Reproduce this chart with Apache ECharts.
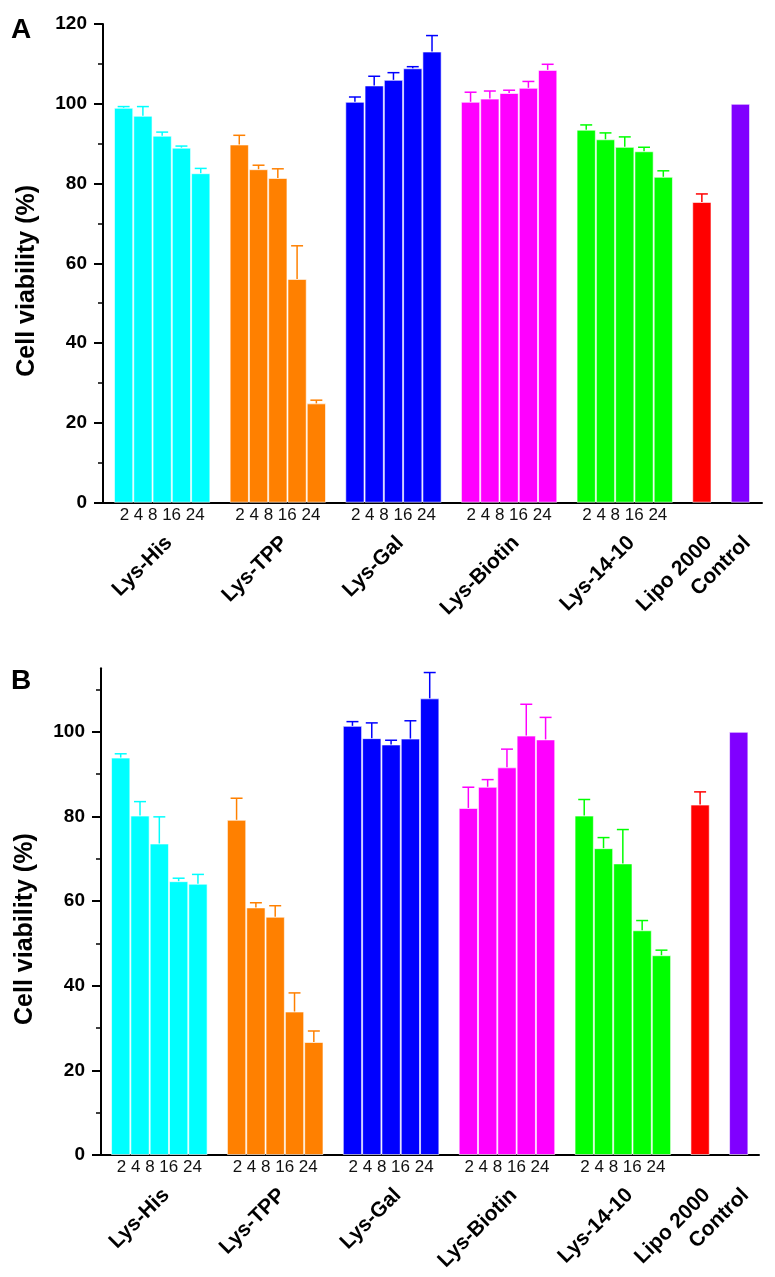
<!DOCTYPE html>
<html><head><meta charset="utf-8">
<script src="https://cdn.jsdelivr.net/npm/echarts@6/dist/echarts.min.js"></script>
<style>html,body{margin:0;padding:0;background:#fff}#c{width:775px;height:1277px}</style>
</head><body><div id="c"></div>
<script>
// ---------- categories ----------
const groupNames = ['Lys-His', 'Lys-TPP', 'Lys-Gal', 'Lys-Biotin', 'Lys-14-10', 'Lipo 2000', 'Control'];
const timeLabels = ['2', '4', '8', '16', '24'];
const groupColors = ['#00FFFF', '#FF8000', '#0000FF', '#FF00FF', '#00FF00', '#FF0000', '#8000FF'];
const yTicksA = [0, 20, 40, 60, 80, 100, 120];
const yMinorA = [10, 30, 50, 70, 90, 110];
const yTicksB = [0, 20, 40, 60, 80, 100];
const yMinorB = [10, 30, 50, 70, 90, 110];

// ---------- panel A values (mean, error) ----------
const A_His      = [99.0, 97.0, 92.0, 89.0, 82.6];
const A_His_err  = [0.3, 2.3, 0.9, 0.4, 1.2];
const A_TPP      = [89.8, 83.6, 81.4, 56.1, 24.9];
const A_TPP_err  = [2.3, 1.0, 2.3, 8.3, 0.8];
const A_Gal      = [100.5, 104.6, 106.0, 108.9, 113.1];
const A_Gal_err  = [1.2, 2.3, 1.8, 0.4, 4.0];
const A_Biotin     = [100.5, 101.3, 102.7, 104.0, 108.5];
const A_Biotin_err = [2.4, 1.9, 0.7, 1.6, 1.4];
const A_1410     = [93.5, 91.1, 89.2, 88.1, 81.7];
const A_1410_err = [1.2, 1.6, 2.5, 1.0, 1.5];
const A_Lipo     = [75.4];
const A_Lipo_err = [2.0];
const A_Control  = [100];
const A_Control_err = [0];

// ---------- panel B values (mean, error) ----------
const B_His      = [93.9, 80.2, 73.6, 64.7, 64.1];
const B_His_err  = [0.9, 3.3, 6.3, 0.7, 2.2];
const B_TPP      = [79.2, 58.5, 56.3, 33.9, 26.7];
const B_TPP_err  = [5.1, 1.1, 2.6, 4.4, 2.6];
const B_Gal      = [101.4, 98.5, 97.0, 98.4, 107.9];
const B_Gal_err  = [1.0, 3.6, 1.0, 4.2, 6.1];
const B_Biotin     = [82.0, 87.0, 91.6, 99.1, 98.2];
const B_Biotin_err = [4.9, 1.7, 4.3, 7.4, 5.2];
const B_1410     = [80.2, 72.5, 68.9, 53.1, 47.2];
const B_1410_err = [3.8, 2.5, 8.0, 2.3, 1.2];
const B_Lipo     = [82.8];
const B_Lipo_err = [3.0];
const B_Control  = [100];
const B_Control_err = [0];

const panelA = [[A_His, A_His_err], [A_TPP, A_TPP_err], [A_Gal, A_Gal_err], [A_Biotin, A_Biotin_err],
                [A_1410, A_1410_err], [A_Lipo, A_Lipo_err], [A_Control, A_Control_err]];
const panelB = [[B_His, B_His_err], [B_TPP, B_TPP_err], [B_Gal, B_Gal_err], [B_Biotin, B_Biotin_err],
                [B_1410, B_1410_err], [B_Lipo, B_Lipo_err], [B_Control, B_Control_err]];

// slot layout: groups of 5 bars separated by one empty slot
const groupStart = [0, 6, 12, 18, 24, 30, 32];
const FONT = '"Liberation Sans", Arial, sans-serif';
const LABEL_SHIFT = 0.35;

function buildPanel(panel, gi, grid, xMin, xMax, yMax, yTicks, yMinor) {
  const barData = [], errData = [], timePos = [];
  panel.forEach((pair, g) => {
    const vals = pair[0], errs = pair[1];
    vals.forEach((v, i) => {
      const x = groupStart[g] + i;
      barData.push({ value: [x, v], itemStyle: { color: groupColors[g] } });
      if (errs[i] > 0) errData.push([x, v, errs[i], g]);
    });
    if (vals.length > 1) timePos.push(groupStart[g] + (vals.length - 1) / 2);
  });
  const groupPos = panel.map((p, g) => groupStart[g] + (p[0].length - 1) / 2 + LABEL_SHIFT);
  const nameAt = v => {
    let best = 0, bd = 1e9;
    groupPos.forEach((p, k) => { const d = Math.abs(p - v); if (d < bd) { bd = d; best = k; } });
    return groupNames[best];
  };
  const timeText = timeLabels.join(' ');
  const xAxes = [
    { type: 'value', gridIndex: gi, min: xMin, max: xMax, position: 'bottom',
      axisLine: { show: true, onZero: false, lineStyle: { color: '#000', width: 2 } },
      axisTick: { show: false }, splitLine: { show: false },
      axisLabel: { customValues: timePos, formatter: () => timeText,
        fontFamily: FONT, fontSize: 17, color: '#111', margin: 4 } },
    { type: 'value', gridIndex: gi, min: xMin, max: xMax, position: 'bottom',
      axisLine: { show: false, onZero: false }, axisTick: { show: false }, splitLine: { show: false },
      axisLabel: { customValues: groupPos, formatter: v => nameAt(v), rotate: 45,
        fontFamily: FONT, fontSize: 21, fontWeight: 'bold', color: '#000', margin: 37 } }
  ];
  const yAxes = [
    { type: 'value', gridIndex: gi, min: 0, max: yMax, position: 'left',
      name: 'Cell viability (%)', nameLocation: 'middle', nameGap: 63, nameRotate: 90,
      nameTextStyle: { fontFamily: FONT, fontSize: 25, fontWeight: 'bold', color: '#000', padding: [0, 35, 0, 0] },
      axisLine: { show: true, onZero: false, lineStyle: { color: '#000', width: 2 } },
      axisTick: { show: true, customValues: yTicks, length: 9, lineStyle: { color: '#000', width: 2 } },
      axisLabel: { customValues: yTicks, fontFamily: FONT, fontSize: 19, fontWeight: 'bold', color: '#000', margin: 16 },
      splitLine: { show: false } },
    { type: 'value', gridIndex: gi, min: 0, max: yMax, position: 'left',
      axisLine: { show: false, onZero: false },
      axisTick: { show: true, customValues: yMinor, length: 5, lineStyle: { color: '#000', width: 1.5 } },
      axisLabel: { show: false }, splitLine: { show: false } }
  ];
  return { grid, xAxes, yAxes, barData, errData };
}

const pA = buildPanel(panelA, 0, { left: 103, top: 24, width: 659, height: 478.7 }, -1.07, 33.12, 120, yTicksA, yMinorA);
const pB = buildPanel(panelB, 1, { left: 101, top: 668.3, width: 658, height: 486.7 }, -1.02, 33.05, 115, yTicksB, yMinorB);

function errRender(params, api) {
  const x = api.value(0), y = api.value(1), e = api.value(2), g = api.value(3);
  const p0 = api.coord([x, y]);
  const p1 = api.coord([x, y + e]);
  const half = api.size([0.62, 0])[0] / 2;
  const st = { stroke: groupColors[g], lineWidth: 1.5 };
  return { type: 'group', children: [
    { type: 'line', shape: { x1: p0[0], y1: p0[1], x2: p1[0], y2: p1[1] }, style: st },
    { type: 'line', shape: { x1: p1[0] - half, y1: p1[1], x2: p1[0] + half, y2: p1[1] }, style: st }
  ] };
}

function seriesFor(p, xi, yi) {
  return [
    { type: 'bar', xAxisIndex: xi, yAxisIndex: yi, data: p.barData, barWidth: '100%',
      itemStyle: { borderColor: 'rgba(255,255,255,0.6)', borderWidth: 1 }, animation: false },
    { type: 'custom', xAxisIndex: xi, yAxisIndex: yi, data: p.errData, renderItem: errRender,
      encode: { x: 0, y: 1 }, z: 3, animation: false }
  ];
}

const chart = echarts.init(document.getElementById('c'), null, { renderer: 'canvas' });
chart.setOption({
  backgroundColor: '#fff',
  animation: false,
  title: [
    { text: 'A', left: 11, top: 16, padding: 0, textStyle: { fontFamily: FONT, fontSize: 28, fontWeight: 'bold', color: '#000' } },
    { text: 'B', left: 11, top: 667, padding: 0, textStyle: { fontFamily: FONT, fontSize: 28, fontWeight: 'bold', color: '#000' } }
  ],
  grid: [pA.grid, pB.grid],
  xAxis: [...pA.xAxes, ...pB.xAxes],
  yAxis: [...pA.yAxes, ...pB.yAxes],
  series: [...seriesFor(pA, 0, 0), ...seriesFor(pB, 2, 2)]
});
</script>
</body></html>
